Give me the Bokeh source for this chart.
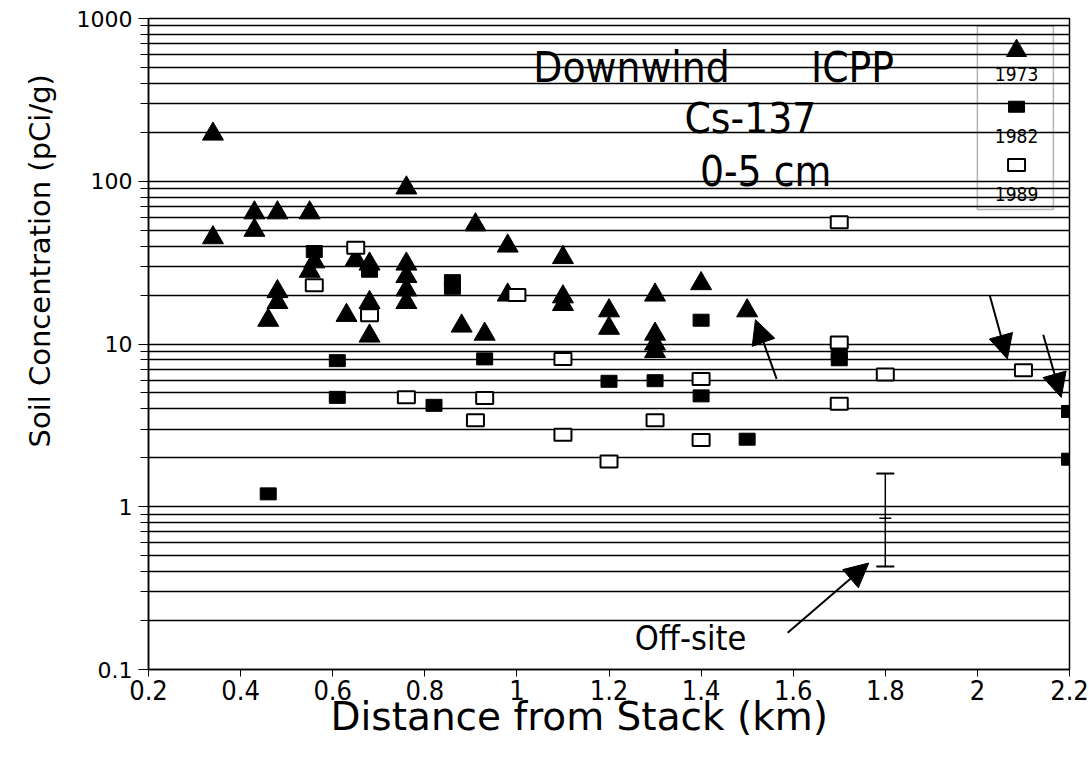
from bokeh.plotting import figure
from bokeh.models import (Range1d, FixedTicker, CustomJSTickFormatter, Label, Arrow, NormalHead,
                          BoxAnnotation, Whisker, TeeHead, ColumnDataSource, Title)
from bokeh.embed import file_html
from bokeh.resources import INLINE

# ---------------- data ----------------
x_1973 = [0.34, 0.34, 0.43, 0.43, 0.48, 0.48, 0.48, 0.46, 0.55, 0.56, 0.55, 0.63, 0.65, 0.68,
          0.68, 0.68, 0.76, 0.76, 0.76, 0.76, 0.76, 0.88, 0.91, 0.93, 0.98, 0.98, 1.1, 1.1,
          1.1, 1.2, 1.2, 1.3, 1.3, 1.3, 1.3, 1.4, 1.5]
y_1973 = [195, 45, 64, 50, 64, 21, 18, 14, 64, 32, 28, 15, 33, 31,
          18, 11.2, 91, 31, 26, 21.5, 18, 12.9, 54, 11.5, 40, 20, 34, 19.5,
          17.5, 16, 12.5, 20, 11.5, 10, 9, 23.5, 16]

x_1982 = [0.46, 0.56, 0.61, 0.61, 0.68, 0.82, 0.86, 0.86, 0.93, 1.2, 1.3, 1.4, 1.4, 1.5,
          1.7, 1.7, 2.2, 2.2]
y_1982 = [1.2, 37, 7.9, 4.7, 28, 4.2, 24.5, 22, 8.1, 5.9, 5.95, 14, 4.8, 2.6,
          8.8, 8.0, 3.85, 1.96]

x_1989 = [0.56, 0.65, 0.68, 0.76, 0.91, 0.93, 1.0, 1.1, 1.1, 1.2, 1.3, 1.4, 1.4, 1.7,
          1.7, 1.7, 1.8, 2.1]
y_1989 = [23, 39, 15, 4.7, 3.4, 4.65, 20, 8.1, 2.77, 1.9, 3.4, 6.1, 2.57, 56,
          10.2, 4.3, 6.5, 6.9]

# off-site range bar
offsite_x = [1.8]
offsite_low = [0.43]
offsite_high = [1.6]
offsite_mid = [0.85]

# arrows: (x_start, y_start, x_end, y_end)
arrows = [
    (1.564, 6.1, 1.518, 14.1),
    (2.027, 19.8, 2.065, 8.1),
    (2.143, 11.4, 2.182, 4.7),
    (1.588, 0.168, 1.764, 0.451),
]

x_ticks = [0.2, 0.4, 0.6, 0.8, 1, 1.2, 1.4, 1.6, 1.8, 2, 2.2]
y_ticks = [0.1, 1, 10, 100, 1000]
y_minor = [k * 10.0 ** d for d in range(-1, 3) for k in range(2, 10)]

legend_years = ["1973", "1982", "1989"]

NARROW = "'Liberation Sans Narrow', 'DejaVu Sans Condensed', 'Liberation Sans', sans-serif"

# ---------------- figure ----------------
p = figure(width=1089, height=759, x_range=Range1d(0.2, 2.2), y_range=Range1d(0.1, 1000),
           y_axis_type="log", output_backend="svg", toolbar_location=None,
           min_border_left=148, min_border_right=20, min_border_top=18, min_border_bottom=90)
p.background_fill_color = "white"
p.border_fill_color = "white"
p.outline_line_color = "black"
p.outline_line_width = 1.5

# y axis
p.yaxis.ticker = FixedTicker(ticks=y_ticks, minor_ticks=y_minor)
p.yaxis.formatter = CustomJSTickFormatter(code="return tick.toString()")
p.yaxis.major_label_text_font = "DejaVu Sans"
p.yaxis.major_label_text_font_size = "22px"
p.yaxis.major_label_text_color = "black"
p.yaxis.axis_line_color = "black"
p.yaxis.axis_line_width = 1.5
p.yaxis.major_tick_line_color = "black"
p.yaxis.minor_tick_line_color = "black"
p.yaxis.major_tick_in = 6
p.yaxis.major_tick_out = 10
p.yaxis.minor_tick_in = 4
p.yaxis.minor_tick_out = 8
p.yaxis.major_label_standoff = 6

# x axis
p.xaxis.ticker = FixedTicker(ticks=x_ticks)
p.xaxis.formatter = CustomJSTickFormatter(code="return tick.toString()")
p.xaxis.major_label_text_font = NARROW
p.xaxis.major_label_text_font_size = "27px"
p.xaxis.major_label_text_color = "black"
p.xaxis.axis_line_color = "black"
p.xaxis.axis_line_width = 1.5
p.xaxis.major_tick_line_color = "black"
p.xaxis.minor_tick_line_color = None
p.xaxis.major_tick_in = 0
p.xaxis.major_tick_out = 7
p.xaxis.major_label_standoff = 3

# axis titles (as side titles so they can be offset like the original)
p.add_layout(Title(text="Distance from Stack (km)", align="left", offset=182, standoff=-22,
                   text_font="DejaVu Sans", text_font_size="39px", text_font_style="normal",
                   text_color="black"), "below")
p.add_layout(Title(text="Soil Concentration (pCi/g)", align="left", offset=222, standoff=30,
                   vertical_align="top",
                   text_font="DejaVu Sans", text_font_size="29px", text_font_style="normal",
                   text_color="black"), "left")

# grid
p.xgrid.grid_line_color = None
p.ygrid.ticker = FixedTicker(ticks=y_ticks, minor_ticks=y_minor)
p.ygrid.grid_line_color = "black"
p.ygrid.grid_line_width = 1.6
p.ygrid.minor_grid_line_color = "black"
p.ygrid.minor_grid_line_width = 1.6

# ---------------- data marks ----------------
p.scatter(x_1973, y_1973, marker="triangle", size=21, fill_color="black", line_color="black")
p.rect(x_1982, y_1982, width=16, height=12, width_units="screen", height_units="screen",
       fill_color="black", line_color="black")
p.rect(x_1989, y_1989, width=17, height=12, width_units="screen", height_units="screen",
       fill_color="white", line_color="black", line_width=2)

src = ColumnDataSource(dict(x=offsite_x, lower=offsite_low, upper=offsite_high))
p.add_layout(Whisker(base="x", lower="lower", upper="upper", source=src, dimension="height",
                     line_color="black", line_width=1.5,
                     upper_head=TeeHead(size=18, line_color="black", line_width=2),
                     lower_head=TeeHead(size=18, line_color="black", line_width=2)))
p.scatter(offsite_x, offsite_mid, marker="dash", size=12, line_color="black", line_width=1.5)

for xs, ys, xe, ye in arrows:
    p.add_layout(Arrow(x_start=xs, y_start=ys, x_end=xe, y_end=ye, line_color="black", line_width=2,
                       end=NormalHead(size=24, fill_color="black", line_color="black")))

# ---------------- text ----------------
def lab(x, y, text, size, font=NARROW):
    p.add_layout(Label(x=x, y=y, text=text, text_align="center", text_baseline="middle",
                       text_font=font, text_font_size=size, text_color="black"))

lab(1.249, 498, "Downwind", "42px")
lab(1.729, 498, "ICPP", "42px")
lab(1.507, 242, "Cs-137", "42px")
lab(1.540, 114, "0-5 cm", "42px")
lab(1.377, 0.157, "Off-site", "34px")

# legend box
p.add_layout(BoxAnnotation(left=2.0, right=2.165, bottom=67, top=900, fill_alpha=0,
                           line_color="black", line_width=1.5))
p.scatter([2.085], [634], marker="triangle", size=20, fill_color="black", line_color="black")
p.rect([2.085], [287], width=16, height=11, width_units="screen", height_units="screen",
       fill_color="black", line_color="black")
p.rect([2.085], [126], width=17, height=12, width_units="screen", height_units="screen",
       fill_color="white", line_color="black", line_width=2)
for yy, t in zip([458, 190, 83.8], legend_years):
    lab(2.085, yy, t, "19px")

open("out.html", "w").write(file_html(p, INLINE))
